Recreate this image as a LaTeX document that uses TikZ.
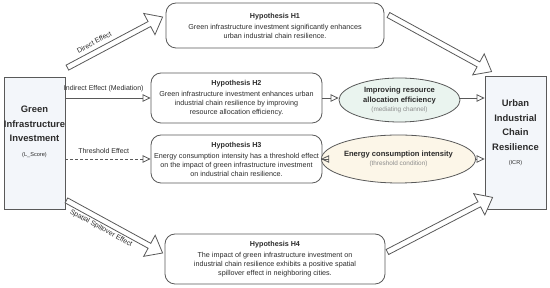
\documentclass[tikz,border=0pt]{standalone}
\usepackage{fontspec}
\setmainfont{Liberation Sans}
\usepackage{tikz}
\usetikzlibrary{positioning}
\usetikzlibrary{arrows.meta}
\usetikzlibrary{shapes}
\usetikzlibrary{calc}

\definecolor{lineGray}{HTML}{595959}
\definecolor{textGray}{HTML}{2B2B2B}
\definecolor{noteGray}{HTML}{8C8C8C}
\definecolor{varBlue}{HTML}{F3F6FA}
\definecolor{medGreen}{HTML}{EAF4EF}
\definecolor{thrYellow}{HTML}{FCF6E8}

\tikzset{
  varbox/.style={draw=lineGray, fill=varBlue, line width=0.8pt, minimum width=61pt, minimum height=132pt, inner sep=0pt},
  vartitle/.style={align=center, inner sep=0pt, text=textGray, font=\fontsize{9.4}{14.6}\selectfont\bfseries},
  varnote/.style={inner sep=0pt, text=textGray, font=\fontsize{5.6}{7}\selectfont},
  hypbox/.style={draw=lineGray, line width=0.8pt, rounded corners=10pt, align=center, inner sep=0pt, text=textGray, font=\fontsize{7.2}{9}\selectfont},
  chanell/.style={ellipse, draw=lineGray, line width=0.8pt, inner sep=0pt, align=center, text=textGray, font=\fontsize{7.6}{9.7}\selectfont\bfseries},
  effarrow/.style={-{Triangle[open, length=8pt, width=7.5pt]}, draw=lineGray, line width=0.8pt},
  efflabel/.style={text=textGray, inner sep=0pt, font=\fontsize{7}{8}\selectfont},
  blockarr/.style={draw=lineGray, line width=0.8pt, fill=white, line join=miter},
}

% hollow block arrow between two points
\newcommand{\fatarrow}[2]{%
  \coordinate (neck) at ($(#2)!15pt!(#1)$);
  \draw[blockarr] ($(#1)!2.8pt!90:(#2)$) -- ($(neck)!2.8pt!90:(#2)$) -- ($(neck)!12pt!90:(#2)$)
    -- (#2) -- ($(neck)!12pt!-90:(#2)$) -- ($(neck)!2.8pt!-90:(#2)$) -- ($(#1)!2.8pt!-90:(#2)$) -- cycle;}

\begin{document}
\begin{tikzpicture}[x=1pt, y=-1pt]
    \useasboundingbox (0,0) rectangle (550,288);

    % Variables
    \node[varbox] (gii) at (34.5,143) {};
    \node[vartitle] (giiname) at (34.5,124) {Green\\Infrastructure\\Investment};
    \node[varnote] (giinote) at (34.5,155) {(L\_Score)};
    \node[varbox, minimum height=133pt] (icr) at (515.5,142.5) {};
    \node[vartitle] (icrname) at (515.5,125) {Urban\\Industrial\\Chain\\Resilience};
    \node[varnote] (icrnote) at (515.5,163) {(ICR)};

    % Hypotheses
    \node[hypbox, minimum width=218pt, minimum height=45pt] (h1) at (275,25.5)
        {\textbf{Hypothesis H1}\\[2pt]Green infrastructure investment significantly enhances\\urban industrial chain resilience.};
    \node[hypbox, minimum width=171pt, minimum height=50pt] (h2) at (236.5,98)
        {\textbf{Hypothesis H2}\\[2pt]Green infrastructure investment enhances urban\\industrial chain resilience by improving\\resource allocation efficiency.};
    \node[hypbox, minimum width=171pt, minimum height=48pt] (h3) at (236.5,159)
        {\textbf{Hypothesis H3}\\[2pt]Energy consumption intensity has a threshold effect\\on the impact of green infrastructure investment\\on industrial chain resilience.};
    \node[hypbox, minimum width=220pt, minimum height=50pt] (h4) at (275,259)
        {\textbf{Hypothesis H4}\\[2pt]The impact of green infrastructure investment on\\industrial chain resilience exhibits a positive spatial\\spillover effect in neighboring cities.};

    % Channels
    \node[chanell, fill=medGreen, minimum width=121pt, minimum height=44pt] (mech) at (399.5,100)
        {Improving resource\\allocation efficiency\\{\mdseries\color{noteGray}\fontsize{6.4}{8}\selectfont(mediating channel)}};
    \node[chanell, fill=thrYellow, minimum width=119pt, minimum height=48pt] (energy) at (398.5,159)
        {Energy consumption intensity\\{\mdseries\color{noteGray}\fontsize{6.4}{8}\selectfont(threshold condition)}};

    % Effect paths
    \draw[effarrow] (gii.east |- h2.west) -- (h2.west)
        node[efflabel, above=6pt, pos=0.45] {Indirect Effect (Mediation)};
    \draw[effarrow, dash pattern=on 3pt off 2pt] (gii.east |- h3.west) -- (h3.west)
        node[efflabel, above=5.5pt, pos=0.45] {Threshold Effect};
    \draw[effarrow] (h2.east) -- (h2.east -| mech.west);
    \draw[effarrow] (h2.east -| mech.east) -- (h2.east -| icr.west);
    \draw[effarrow] (h3.east) -- (energy.west);
    \draw[effarrow, dash pattern=on 3pt off 2pt] (energy.east) -- (energy.east -| icr.west);

    % Block arrows
    \coordinate (dTail) at ($(gii.north east)+(2,-9)$);
    \coordinate (dTip) at ($(h1.west)+(-3,-8.5)$);
    \coordinate (hTail) at ($(h1.east)+(4,-10.5)$);
    \coordinate (hTip) at ($(icr.north west)+(7,-4)$);
    \coordinate (sTail) at ($(gii.south east)+(1,-9)$);
    \coordinate (sTip) at ($(h4.west)+(-2,-6)$);
    \coordinate (fTail) at ($(h4.east)+(2,-7)$);
    \coordinate (fTip) at ($(icr.south west)+(8,-12)$);
    \fatarrow{dTail}{dTip}
    \fatarrow{hTail}{hTip}
    \fatarrow{sTail}{sTip}
    \fatarrow{fTail}{fTip}
    \path (dTail) -- (dTip) node[efflabel, sloped, above=7pt, pos=0.33] {Direct Effect};
    \path (sTail) -- (sTip) node[efflabel, sloped, below=4.5pt, pos=0.4] {Spatial Spillover Effect};
\end{tikzpicture}
\end{document}
